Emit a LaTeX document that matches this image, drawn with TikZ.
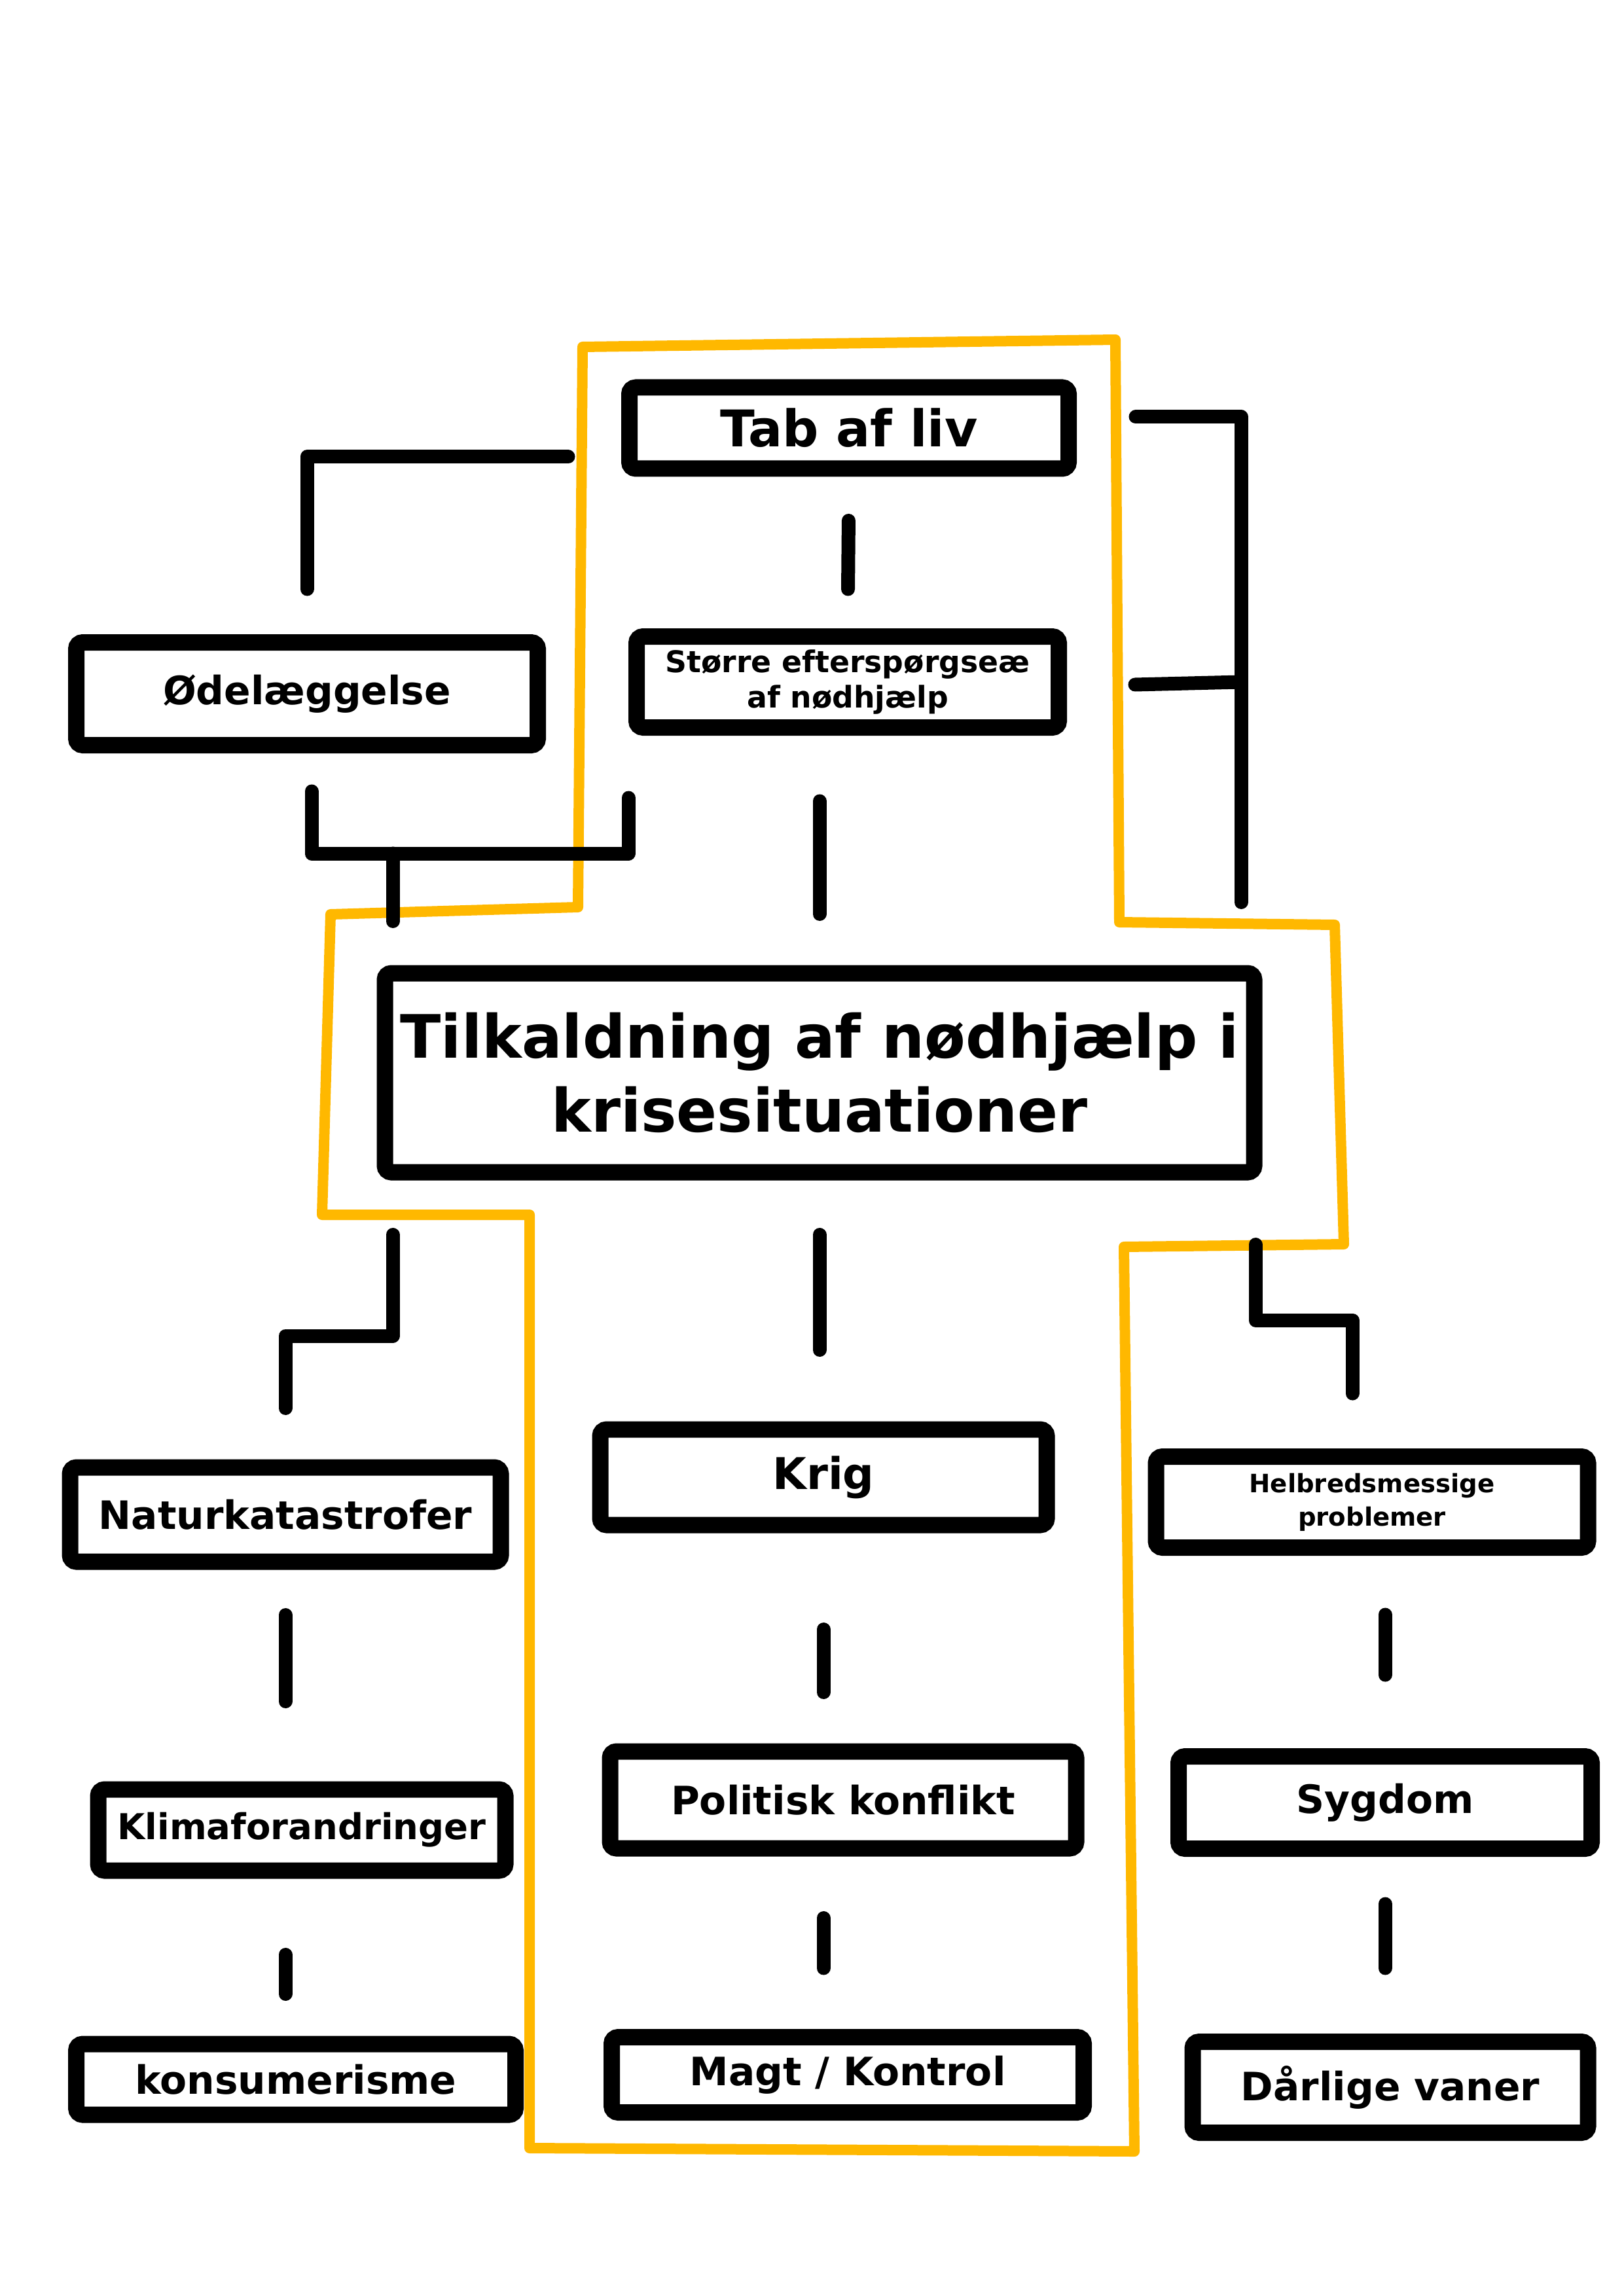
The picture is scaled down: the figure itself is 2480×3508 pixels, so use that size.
\documentclass[tikz,border=0pt]{standalone}
\usepackage{fontspec}
\setmainfont{DejaVu Sans}
\usetikzlibrary{calc}
\definecolor{krisegul}{HTML}{FFB800}
\tikzset{
  boks/.style={draw=black, line width=2.5mm, fill=white, rounded corners=1mm, align=center, inner sep=0pt, font=\bfseries\fontsize{17}{20}\selectfont},
  lille/.style={font=\bfseries\fontsize{13}{15.4}\selectfont},
  streg/.style={line width=2.1mm, line cap=round, line join=round},
  ramme/.style={draw=krisegul, line width=1.6mm, line join=round},
}

\begin{document}
\begin{tikzpicture}[x=0.1mm,y=-0.1mm]
  \useasboundingbox (0,0) rectangle (2480,3508);
  % gul ramme
  \draw[ramme] (890,530) -- (1704,519) -- (1710,1409) -- (2039,1413) -- (2053,1901) -- (1717,1905) -- (1733,3287) -- (809,3282) -- (809,1856) -- (492,1856) -- (505,1397) -- (883,1386) -- cycle;
  % kasser
  \node[boks, minimum width=67.1mm, minimum height=12.4mm, font=\bfseries\fontsize{22}{26}\selectfont] (tab) at (1297,654) {Tab af liv};
  \node[boks, minimum width=64.5mm, minimum height=13.9mm, lille] (stoerre) at (1295,1042) {Større efterspørgseæ\\af nødhjælp};
  \node[boks, minimum width=70.5mm, minimum height=15.7mm] (oedel) at (469,1060) {Ødelæggelse};
  \node[boks, minimum width=132.8mm, minimum height=30.4mm, font=\bfseries\fontsize{26}{32}\selectfont] (krise) at (1252,1639) {Tilkaldning af nødhjælp i\\krisesituationer};
  \node[boks, minimum width=65.8mm, minimum height=14.4mm] (natur) at (436,2314) {Naturkatastrofer};
  \node[boks, minimum width=62.2mm, minimum height=12.4mm, font=\bfseries\fontsize{15.5}{18}\selectfont] (klima) at (461,2796) {Klimaforandringer};
  \node[boks, minimum width=67.1mm, minimum height=10.8mm] (konsum) at (452,3177) {konsumerisme};
  \node[boks, minimum width=68.2mm, minimum height=14.6mm, font=\bfseries\fontsize{19}{22}\selectfont] (krig) at (1258,2257) {Krig};
  \node[boks, minimum width=71.2mm, minimum height=14.8mm] (politisk) at (1288,2750) {Politisk konflikt};
  \node[boks, minimum width=72.1mm, minimum height=11.5mm] (magt) at (1295,3170) {Magt / Kontrol};
  \node[boks, minimum width=66mm, minimum height=13.9mm, font=\bfseries\fontsize{11}{14.5}\selectfont] (helbred) at (2096,2295) {Helbredsmessige\\problemer};
  \node[boks, minimum width=63.1mm, minimum height=14.1mm] (sygdom) at (2116,2754) {Sygdom};
  \node[boks, minimum width=60.4mm, minimum height=13.9mm] (daarlig) at (2124,3189) {Dårlige vaner};
  % lodrette streger
  \draw[streg, shorten <=6.7mm, shorten >=6mm] (tab.south) -- (stoerre.north);
  \draw[streg, shorten <=10mm, shorten >=7.8mm] (krise.north |- stoerre.south) -- (krise.north);
  \draw[streg, shorten <=8.3mm, shorten >=10.9mm] (krise.south) -- (krise.south |- krig.north);
  \draw[streg, shorten <=14.7mm, shorten >=7.8mm] (krig.south) -- (krig.south |- politisk.north);
  \draw[streg, shorten <=9.4mm, shorten >=9.3mm] (krig.south |- politisk.south) -- (krig.south |- magt.north);
  \draw[streg, shorten <=6.9mm, shorten >=12.2mm] (natur.south) -- (natur.south |- klima.north);
  \draw[streg, shorten <=11.6mm, shorten >=6.4mm] (natur.south |- klima.south) -- (natur.south |- konsum.north);
  \draw[streg, shorten <=9mm, shorten >=11.2mm] (sygdom.north |- helbred.south) -- (sygdom.north);
  \draw[streg, shorten <=7.2mm, shorten >=10mm] (sygdom.south) -- (sygdom.south |- daarlig.north);
  % knaek
  \coordinate (venstre) at (868,698);
  \draw[streg, shorten >=6.9mm] (venstre) -| (oedel.north);
  \coordinate (samling) at (600,1304);
  \draw[streg] ($(oedel.south)+(7,58)$) |- (samling) -| ($(stoerre.south west)+(0,95)$);
  \draw[streg, shorten >=6.7mm] (samling) -- (samling |- krise.north);
  \coordinate (hoejre) at (1896,637);
  \draw[streg, shorten >=9.6mm] ($(tab.east)+(90,-17)$) -- (hoejre) -- (hoejre |- krise.north);
  \draw[streg] ($(stoerre.east)+(104,4)$) -- (hoejre |- stoerre.east);
  \coordinate (knaek1) at (600,2041);
  \draw[streg, shorten <=8.3mm, shorten >=7.8mm] (knaek1 |- krise.south) -- (knaek1) -| (natur.north);
  \coordinate (knaek2) at (1918,2017);
  \draw[streg, shorten <=9.8mm, shorten >=8.4mm] (knaek2 |- krise.south) -- (knaek2) -| ($(helbred.north)+(-30,0)$);
\end{tikzpicture}
\end{document}
